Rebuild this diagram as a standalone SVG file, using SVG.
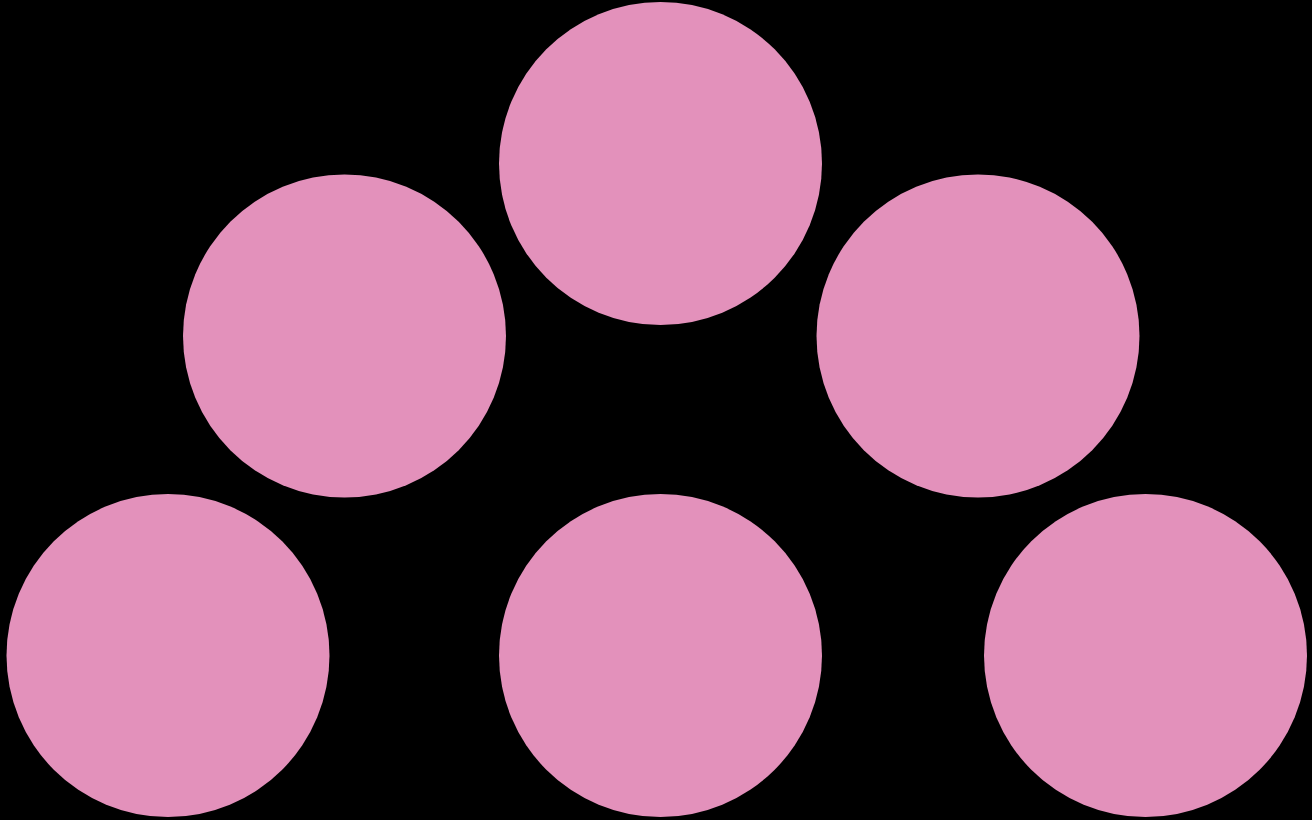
<svg xmlns="http://www.w3.org/2000/svg" width="1312" height="820" viewBox="0 0 1312 820">
<style>
.node { fill: #e391bb; stroke: none; }
</style>
<rect x="0" y="0" width="1312" height="820" fill="#000000"/>
<g id="connectors"></g>
<g id="node-top"><circle class="node" cx="660.5" cy="163.5" r="161.5"/></g>
<g id="node-mid-left"><circle class="node" cx="344.5" cy="336" r="161.5"/></g>
<g id="node-mid-right"><circle class="node" cx="978" cy="336" r="161.5"/></g>
<g id="node-bottom-left"><circle class="node" cx="168" cy="655.5" r="161.5"/></g>
<g id="node-bottom-mid"><circle class="node" cx="660.5" cy="655.5" r="161.5"/></g>
<g id="node-bottom-right"><circle class="node" cx="1145.5" cy="655.5" r="161.5"/></g>
</svg>
